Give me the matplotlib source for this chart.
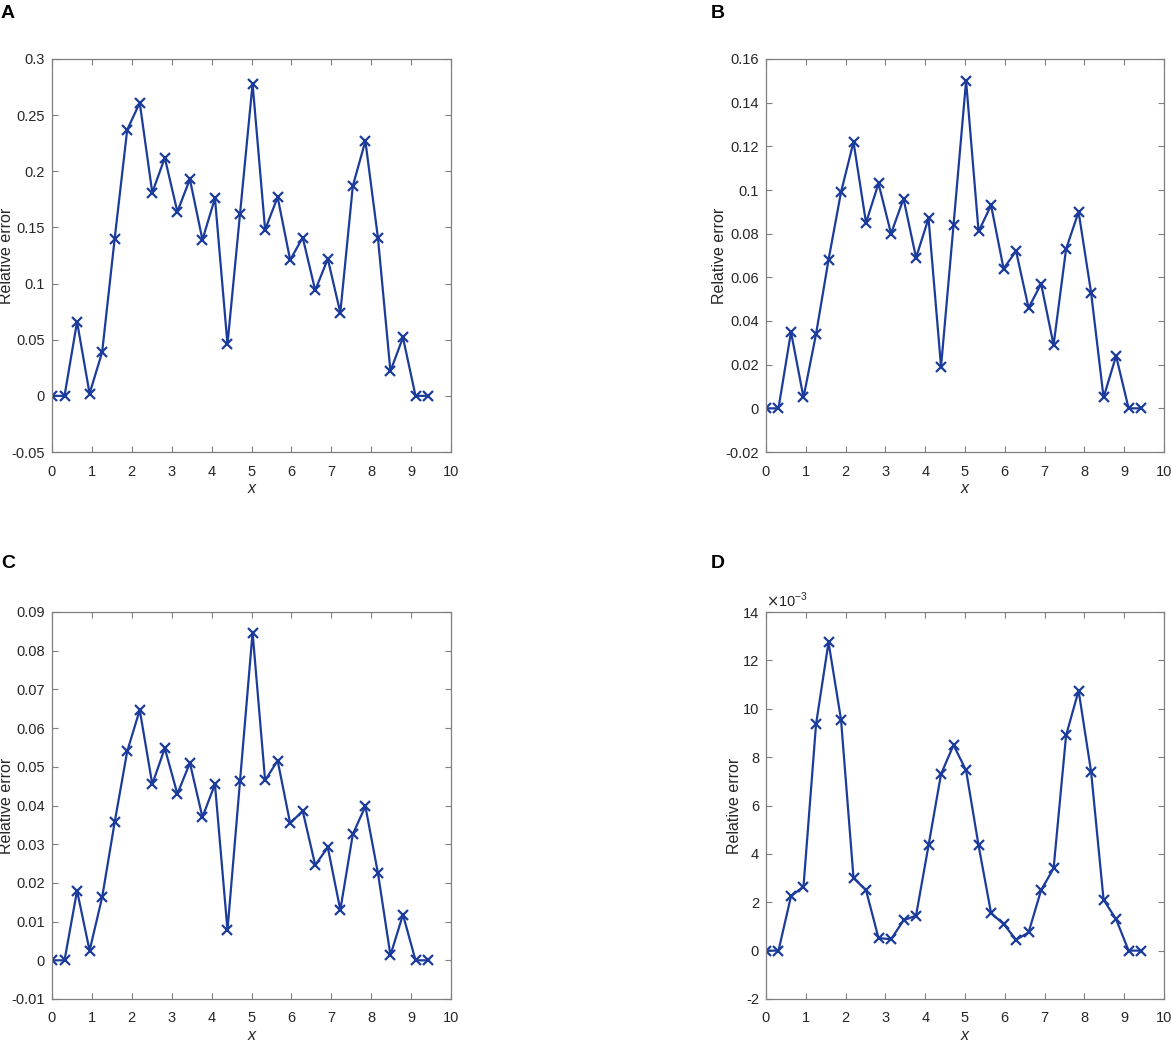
import matplotlib
matplotlib.use('Agg')
import matplotlib.pyplot as plt

plt.rcParams['font.family'] = ['Liberation Sans', 'DejaVu Sans']

# x nodes (0 .. 3*pi, step pi/10)
x = [0.000, 0.314, 0.628, 0.942, 1.257, 1.571, 1.885, 2.199, 2.513, 2.827,
     3.142, 3.456, 3.770, 4.084, 4.398, 4.712, 5.027, 5.341, 5.655, 5.969,
     6.283, 6.597, 6.912, 7.226, 7.540, 7.854, 8.168, 8.482, 8.796, 9.111,
     9.425]

err_a = [0, 0, 0.066, 0.002, 0.039, 0.140, 0.237, 0.261, 0.181, 0.212,
         0.164, 0.193, 0.139, 0.176, 0.046, 0.162, 0.278, 0.148, 0.177, 0.121,
         0.141, 0.094, 0.122, 0.074, 0.187, 0.227, 0.141, 0.022, 0.052, 0, 0]

err_b = [0, 0, 0.035, 0.005, 0.034, 0.068, 0.099, 0.122, 0.085, 0.103,
         0.080, 0.096, 0.069, 0.087, 0.019, 0.084, 0.150, 0.081, 0.093, 0.064,
         0.072, 0.046, 0.057, 0.029, 0.073, 0.090, 0.053, 0.005, 0.024, 0, 0]

err_c = [0, 0, 0.0180, 0.0025, 0.0163, 0.0357, 0.0540, 0.0647, 0.0455, 0.0548,
         0.0430, 0.0510, 0.0370, 0.0455, 0.0078, 0.0463, 0.0847, 0.0465, 0.0516, 0.0354,
         0.0386, 0.0246, 0.0292, 0.0130, 0.0326, 0.0398, 0.0226, 0.0013, 0.0118, 0, 0]

err_d = [0, 0, 2.25e-3, 2.65e-3, 9.35e-3, 12.75e-3, 9.55e-3, 3.0e-3, 2.5e-3, 0.52e-3,
         0.47e-3, 1.25e-3, 1.45e-3, 4.35e-3, 7.3e-3, 8.5e-3, 7.45e-3, 4.35e-3, 1.55e-3, 1.1e-3,
         0.45e-3, 0.75e-3, 2.5e-3, 3.4e-3, 8.9e-3, 10.75e-3, 7.4e-3, 2.1e-3, 1.3e-3, 0, 0]

panels = ['A', 'B', 'C', 'D']
series = [err_a, err_b, err_c, err_d]
ylims = [(-0.05, 0.3), (-0.02, 0.16), (-0.01, 0.09), (-2e-3, 14e-3)]
ysteps = [0.05, 0.02, 0.01, 2e-3]
yticklabels = [
    ['-0.05', '0', '0.05', '0.1', '0.15', '0.2', '0.25', '0.3'],
    ['-0.02', '0', '0.02', '0.04', '0.06', '0.08', '0.1', '0.12', '0.14', '0.16'],
    ['-0.01', '0', '0.01', '0.02', '0.03', '0.04', '0.05', '0.06', '0.07', '0.08', '0.09'],
    ['-2', '0', '2', '4', '6', '8', '10', '12', '14'],
]

W, H = 1171, 1052
fig = plt.figure(figsize=(W / 100, H / 100), dpi=100)

# axes boxes in pixels: left, top, right, bottom
boxes = [(52, 59, 451, 452), (766, 59, 1164, 452),
         (52, 612, 451, 999), (766, 612, 1164, 999)]
label_pos = [(1, 14), (711, 14), (1, 563), (711, 563)]
ylabel_x = [-0.094, -0.098, -0.094, -0.06]

line_color = '#1c3c9c'
box_color = '#7f7f7f'
text_color = '#262626'

for i in range(4):
    l, t, r, b = boxes[i]
    ax = fig.add_axes([l / W, 1 - b / H, (r - l) / W, (b - t) / H])
    ax.plot(x, series[i], '-x', color=line_color, lw=1.6, ms=6.5, mew=1.6)
    ax.set_xlim(0, 10)
    ax.set_ylim(*ylims[i])
    ax.set_xticks(range(0, 11))
    lo, hi = ylims[i]
    n = len(yticklabels[i])
    ax.set_yticks([lo + k * ysteps[i] for k in range(n)])
    ax.set_yticklabels(yticklabels[i])
    ax.tick_params(direction='in', top=True, right=True, length=4,
                   width=0.8, color=box_color, labelsize=10.5, labelcolor=text_color)
    ax.tick_params(axis='x', pad=9)
    ax.tick_params(axis='y', pad=5)
    for s in ax.spines.values():
        s.set_color(box_color)
        s.set_linewidth(0.9)
    ax.set_ylabel('Relative error', fontsize=11.5, color=text_color)
    ax.yaxis.set_label_coords(ylabel_x[i], 0.5)
    ax.set_xlabel('x', fontsize=11.5, style='italic', color=text_color, labelpad=2)
    if i == 3:
        ax.text(0.0, 1.006, r'$\times$10$^{\mathregular{-3}}$', transform=ax.transAxes,
                fontsize=10.5, color=text_color, va='bottom', ha='left')
    fig.text(label_pos[i][0] / W, 1 - label_pos[i][1] / H, panels[i],
             fontsize=14, fontweight='bold', va='center', ha='left')

fig.savefig('out.png', dpi=100)
